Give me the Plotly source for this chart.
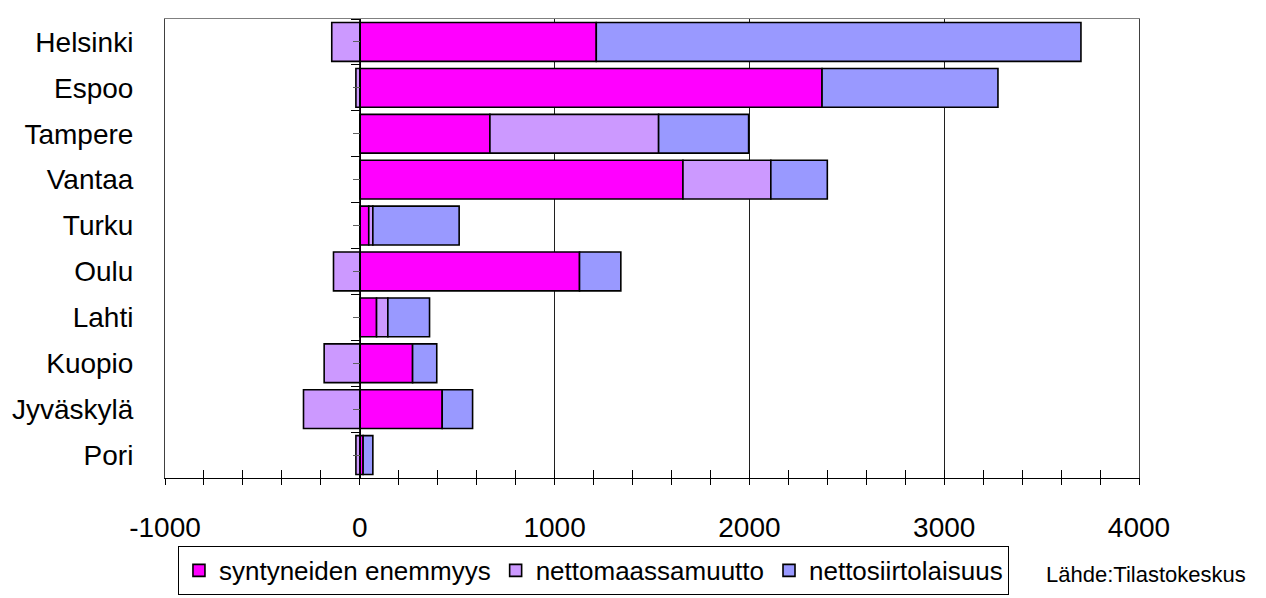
import plotly.graph_objects as go

cities = ["Helsinki", "Espoo", "Tampere", "Vantaa", "Turku", "Oulu", "Lahti", "Kuopio", "Jyväskylä", "Pori"]
syntyneiden = [1214, 2373, 668, 1659, 46, 1128, 86, 271, 423, 17]
nettomaassamuutto = [-144, -20, 866, 451, 21, -135, 58, -183, -289, -20]
nettosiirtolaisuus = [2488, 903, 462, 290, 443, 212, 214, 124, 156, 50]

series_names = ["syntyneiden enemmyys", "nettomaassamuutto", "nettosiirtolaisuus"]
series_values = [syntyneiden, nettomaassamuutto, nettosiirtolaisuus]
series_colors = ["#FF00FF", "#CC99FF", "#9999FF"]

x_tickvals = [-1000, 0, 1000, 2000, 3000, 4000]
x_ticktext = ["-1000", "0", "1000", "2000", "3000", "4000"]
source_text = "Lähde:Tilastokeskus"

FONT = "Liberation Sans, Arial, sans-serif"

fig = go.Figure()
for name, vals, col in zip(series_names, series_values, series_colors):
    fig.add_trace(go.Bar(
        y=cities, x=vals, name=name, orientation="h",
        marker=dict(color=col, line=dict(color="black", width=1.6)),
    ))

# empty helper traces so overlay axes are drawn
fig.add_trace(go.Scatter(x=[], y=[], xaxis="x", yaxis="y2", showlegend=False, hoverinfo="skip"))
fig.add_trace(go.Scatter(x=[], y=[], xaxis="x2", yaxis="y", showlegend=False, hoverinfo="skip"))

n = len(cities)
boundaries = [i - 0.5 for i in range(n + 1)]
centers = list(range(n))

fig.update_layout(
    width=1266, height=598,
    margin=dict(l=157, r=135, t=11, b=114),
    barmode="relative", bargap=0.155,
    plot_bgcolor="white", paper_bgcolor="white",
    font=dict(family=FONT, size=20, color="black"),
    xaxis=dict(
        range=[-1000, 4000], tickvals=x_tickvals, ticktext=x_ticktext,
        automargin=False,
        showgrid=True, gridcolor="#202020", gridwidth=1,
        zeroline=False,
        showline=True, mirror=True, linecolor="#808080", linewidth=1,
        ticks="outside", ticklen=6, tickcolor="black", tickwidth=1,
        minor=dict(dtick=200, ticks="outside", ticklen=6, tickcolor="black", tickwidth=1, showgrid=False),
        ticklabelstandoff=18,
        tickfont=dict(size=28, family=FONT),
    ),
    xaxis2=dict(
        overlaying="x", anchor="y", side="bottom",
        range=[-1000, 4000], tickvals=x_tickvals,
        automargin=False,
        showgrid=False, zeroline=False, showticklabels=False,
        showline=True, linecolor="black", linewidth=1,
        ticks="inside", ticklen=8, tickcolor="black", tickwidth=1,
        minor=dict(dtick=200, ticks="inside", ticklen=8, tickcolor="black", tickwidth=1, showgrid=False),
    ),
    yaxis=dict(
        type="category", range=[n - 0.5, -0.5],
        automargin=False,
        showgrid=False, zeroline=False,
        showline=True, mirror=True, linecolor="#404040", linewidth=1,
        ticks="outside", ticklen=25, tickcolor="rgba(0,0,0,0)",
        tickfont=dict(size=28, family=FONT),
    ),
    yaxis2=dict(
        overlaying="y", anchor="free", position=0.2, side="left",
        type="linear", range=[n - 0.5, -0.5],
        automargin=False,
        showgrid=False, zeroline=False, showticklabels=False,
        showline=True, linecolor="black", linewidth=1,
        tickvals=boundaries, ticks="outside", ticklen=9, tickcolor="black", tickwidth=1,
        minor=dict(tickvals=centers, ticks="outside", ticklen=7, tickcolor="#606060", tickwidth=1),
    ),
    legend=dict(
        orientation="h", x=0.0133, y=-0.148, xanchor="left", yanchor="top",
        bordercolor="black", borderwidth=1, bgcolor="white",
        font=dict(size=26, family=FONT),
        itemwidth=30, tracegroupgap=0,
    ),
    annotations=[dict(
        text=source_text, xref="paper", yref="paper",
        x=1.112, y=-0.2093, xanchor="right", yanchor="middle",
        showarrow=False, font=dict(size=22, family=FONT, color="black"),
    )],
    showlegend=True,
)

fig.write_html("out.html")
